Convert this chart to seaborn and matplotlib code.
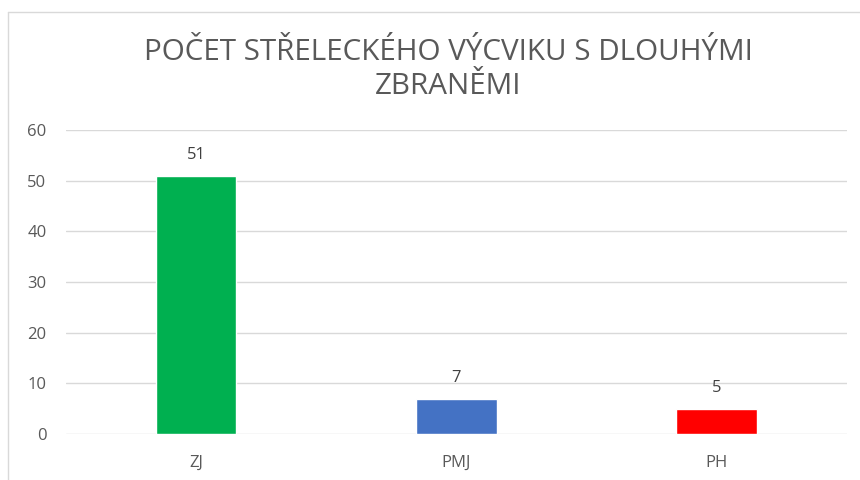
import matplotlib
matplotlib.use("Agg")
import matplotlib.pyplot as plt
import seaborn as sns
import pandas as pd
from matplotlib.lines import Line2D

kategorie = ["ZJ", "PMJ", "PH"]
pocty = [51, 7, 5]
barvy = ["#00B050", "#4472C4", "#FF0000"]

df = pd.DataFrame({"kategorie": kategorie, "pocet": pocty})

sns.set_style("white")
plt.rcParams["font.family"] = ["Open Sans", "DejaVu Sans"]

fig = plt.figure(figsize=(8.6, 4.8), dpi=100)
ax = fig.add_axes([0.0767, 0.0958, 0.908, 0.633])

sns.barplot(data=df, x="kategorie", y="pocet", hue="kategorie",
            palette=barvy, width=0.31, legend=False, ax=ax, saturation=1)

ax.set_xlim(-0.5, 2.5)
ax.set_ylim(0, 60)
ax.set_yticks(range(0, 61, 10))
ax.grid(axis="y", color="#d9d9d9", linewidth=1)
ax.set_axisbelow(True)
for s in ax.spines.values():
    s.set_visible(False)
ax.set_xlabel("")
ax.set_ylabel("")
ax.tick_params(axis="both", length=0, colors="#595959", labelsize=12)
ax.tick_params(axis="x", pad=15)
ax.tick_params(axis="y", pad=14)

for cont in ax.containers:
    ax.bar_label(cont, padding=9, color="#404040", fontsize=12)

fig.text(0.521, 0.855, "POČET STŘELECKÉHO VÝCVIKU S DLOUHÝMI\nZBRANĚMI",
         ha="center", va="center", fontsize=21.3, color="#595959",
         linespacing=1.25)

# rámeček grafu
fig.add_artist(Line2D([8 / 860, 8 / 860], [0, 1 - 12 / 480],
                      transform=fig.transFigure, color="#d9d9d9", linewidth=1))
fig.add_artist(Line2D([8 / 860, 1], [1 - 12 / 480, 1 - 12 / 480],
                      transform=fig.transFigure, color="#d9d9d9", linewidth=1))

fig.savefig("out.png", dpi=100)
